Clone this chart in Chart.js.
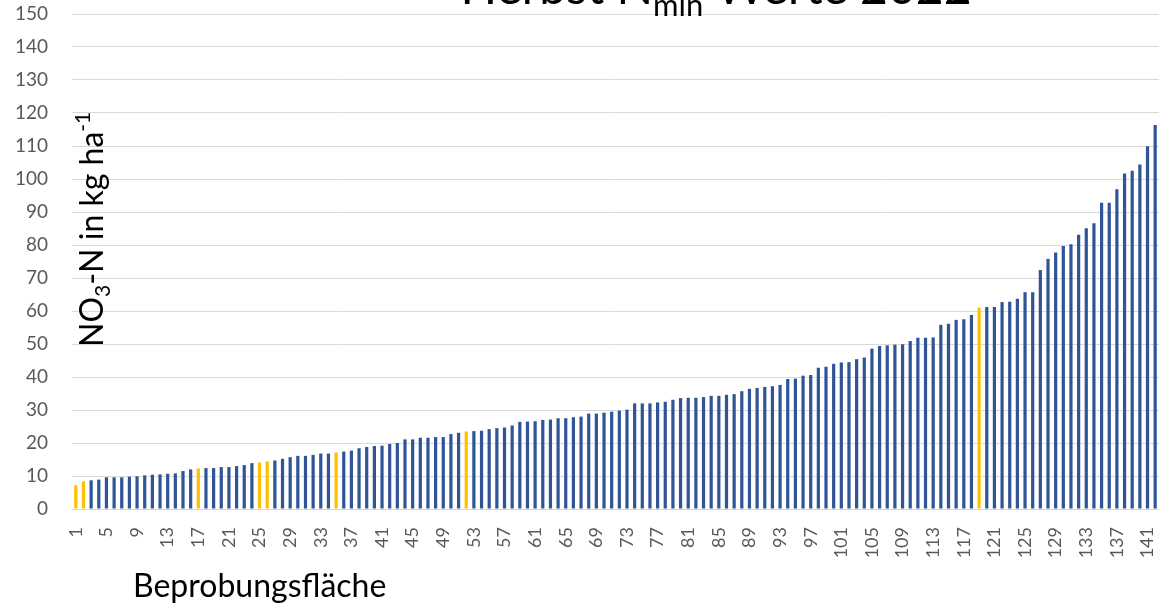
<!DOCTYPE html>
<html>
<head>
<meta charset="utf-8">
<script src="https://cdn.jsdelivr.net/npm/chart.js@4.4.0/dist/chart.umd.min.js"></script>
<style>
  body { margin: 0; background: #fff; }
</style>
</head>
<body>
<canvas id="nminChart" width="1159" height="608"></canvas>
<script>
// Herbst Nmin Werte 2022 - sorted NO3-N per sampling plot
const plots = Array.from({ length: 142 }, (_, i) => String(i + 1));
const no3n = [
  7.2, 8.4, 8.7, 8.9, 9.6, 9.6, 9.6, 9.8, 9.9, 10.2,
  10.4, 10.5, 10.7, 10.8, 11.5, 12.0, 12.3, 12.4, 12.4, 12.7,
  12.7, 13.0, 13.3, 13.9, 14.1, 14.4, 14.7, 15.2, 15.7, 16.1,
  16.1, 16.4, 16.8, 16.8, 17.1, 17.4, 17.7, 18.4, 18.8, 19.1,
  19.2, 19.7, 20.0, 21.1, 21.1, 21.6, 21.6, 21.8, 21.8, 22.7,
  23.1, 23.5, 23.6, 23.7, 24.2, 24.5, 24.7, 25.3, 26.4, 26.5,
  26.6, 27.0, 27.1, 27.5, 27.5, 27.8, 28.0, 28.9, 28.9, 29.2,
  29.5, 29.8, 30.1, 32.0, 32.0, 32.0, 32.3, 32.5, 33.1, 33.6,
  33.7, 33.7, 33.9, 34.3, 34.3, 34.6, 34.8, 35.7, 36.4, 36.7,
  37.0, 37.2, 37.6, 39.4, 39.5, 40.4, 40.6, 42.8, 43.1, 44.0,
  44.4, 44.5, 45.4, 45.9, 48.6, 49.4, 49.6, 49.8, 49.9, 50.9,
  51.9, 51.9, 52.0, 55.8, 56.1, 57.3, 57.5, 58.8, 61.0, 61.2,
  61.2, 62.7, 62.8, 63.7, 65.7, 65.7, 72.4, 75.8, 77.7, 79.7,
  80.2, 83.1, 85.1, 86.6, 92.8, 92.8, 96.9, 101.7, 102.5, 104.4,
  109.9, 116.4
];
// plots drawn in yellow
const highlighted = ["1", "2", "17", "25", "26", "35", "52", "119"];
const yMin = 0, yMax = 150, yStep = 10;
const xLabelEvery = 4;

const BLUE = "#2F5597";
const YELLOW = "#FFC000";
const FONT = "Lato";

// title, y title and x title (sub/superscripts drawn by hand)
const textPlugin = {
  id: "texts",
  afterDraw(chart) {
    const c = chart.ctx;
    c.save();
    c.fillStyle = "#000";
    c.textBaseline = "alphabetic";
    c.textAlign = "left";

    // title, mostly cut off at the top
    const parts = [
      { t: "Herbst N", size: 48, dy: 0 },
      { t: "min", size: 31, dy: 12 },
      { t: " Werte 2022", size: 48, dy: 0 }
    ];
    let total = 0;
    parts.forEach(p => { c.font = p.size + "px " + FONT; p.w = c.measureText(p.t).width; total += p.w; });
    let x = 716 - total / 2;
    parts.forEach(p => { c.font = p.size + "px " + FONT; c.fillText(p.t, x, 4 + p.dy); x += p.w; });

    // y axis title, rotated, inside the plot
    c.save();
    c.translate(103, 347);
    c.rotate(-Math.PI / 2);
    const yParts = [
      { t: "NO", size: 32, dy: 0 },
      { t: "3", size: 21, dy: 7 },
      { t: "-N in kg ha", size: 32, dy: 0 },
      { t: "-1", size: 21, dy: -13 }
    ];
    x = 0;
    yParts.forEach(p => { c.font = p.size + "px " + FONT; c.fillText(p.t, x, p.dy); x += c.measureText(p.t).width; });
    c.restore();

    // x axis title
    c.font = "32px " + FONT;
    c.fillText("Beprobungsfläche", 133, 597);
    c.restore();
  }
};

new Chart(document.getElementById("nminChart"), {
  type: "bar",
  data: {
    labels: plots,
    datasets: [
      {
        data: no3n,
        backgroundColor: plots.map(p => (highlighted.includes(p) ? YELLOW : BLUE)),
        categoryPercentage: 1,
        barPercentage: 0.42,
      },
    ],
  },
  options: {
    responsive: false,
    animation: false,
    devicePixelRatio: 1,
    layout: { padding: { top: 14, right: 0, left: 0, bottom: 0 } },
    plugins: {
      legend: { display: false },
      tooltip: { enabled: false },
    },
    scales: {
      x: {
        grid: { display: false, drawTicks: false },
        border: { display: true, color: "#d9d9d9", width: 1 },
        ticks: {
          autoSkip: false,
          minRotation: 90,
          maxRotation: 90,
          padding: 18,
          color: "#595959",
          font: { family: FONT, size: 18 },
          callback: (v, i) => (i % xLabelEvery === 0 ? plots[i] : ""),
        },
        afterFit: s => {
          s.height = 99;
          s.paddingLeft = 0;
          s.paddingRight = 0;
        },
      },
      y: {
        min: yMin,
        max: yMax,
        grid: { color: "#d9d9d9", lineWidth: 1, drawTicks: false },
        border: { display: false },
        ticks: {
          stepSize: yStep,
          padding: 24,
          color: "#595959",
          font: { family: FONT, size: 19 },
        },
        afterFit: s => {
          s.width = 72;
          s.paddingTop = 0;
          s.paddingBottom = 0;
        },
      },
    },
  },
  plugins: [textPlugin],
});
</script>
</body>
</html>
